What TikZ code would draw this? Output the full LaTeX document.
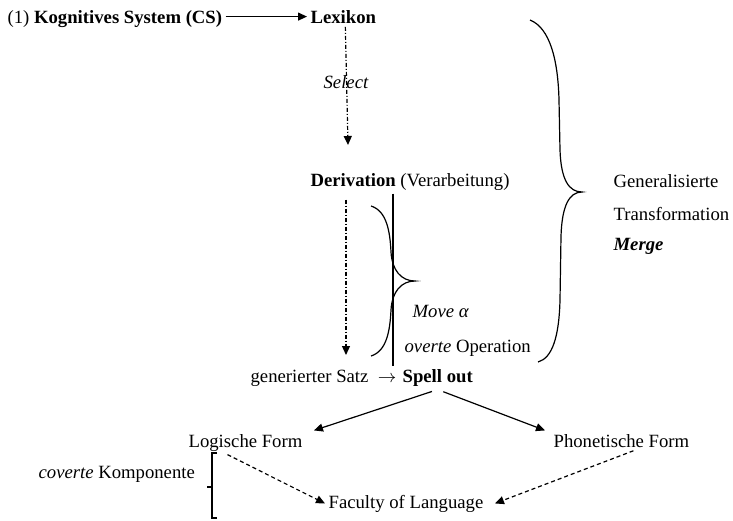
\documentclass[tikz,border=0pt]{standalone}
\usepackage{fontspec}
\setmainfont{Liberation Serif}
\usepackage{tikz}
\usetikzlibrary{arrows.meta,positioning,calc}

\begin{document}
\begin{tikzpicture}[x=0.5pt,y=-0.5pt,>={Triangle[length=4.5pt,width=4pt]},line width=0.6pt,font=\fontsize{9.35pt}{11pt}\selectfont,t/.style={inner sep=1.5pt,anchor=base west},dd/.style={dash pattern=on 2pt off 1pt on 0.5pt off 1pt},ds/.style={dash pattern=on 2pt off 1.5pt}]
 \useasboundingbox (0,0) rectangle (733,520);
 \node[t] (cs) at (4,23) {(1) \textbf{Kognitives System (CS)}};
 \node[t] (lex) at (307,23) {\textbf{Lexikon}};
 \node[t] (der) at (307,186) {\textbf{Derivation} (Verarbeitung)};
 \node[t] (gen) at (247,382) {generierter Satz ~$\rightarrow$};
 \node[t] (so) at (399,382) {\textbf{Spell out}};
 \node[t] (lf) at (185,447) {Logische Form};
 \node[t] (pf) at (550,447) {Phonetische Form};
 \node[t] (fl) at (325,508) {Faculty of Language};
 \node[t] (kp) at (35,478) {\textit{coverte} Komponente};
 \node[t] (mv) at (409,317) {\textit{Move α}};
 \node[t] (ov) at (401,352) {\textit{overte} Operation};
 \node[t] (gt) at (610,187) {Generalisierte};
 \node[t] (tr) at (610,220) {Transformation};
 \node[t] (mg) at (610,250) {\textbf{\textit{Merge}}};
 \coordinate (sx) at (348,145);
 \coordinate (dx) at (346,355);
 \coordinate (ax) at (393,0);
 \draw[->] ([yshift=1pt]cs.east) -- ([yshift=1pt]cs.east -| lex.west);
 \draw[dd,->] ([xshift=1pt]lex.south) -- (sx);
 \node[t] (sel) at (320,88) {\textit{Select}};
 \draw[dd,->,shorten <=3pt] (der.south -| dx) -- (dx);
 \draw[line width=1pt] (der.south -| ax) -- (gen.north -| ax);
 \draw (371,206) .. controls (387,211) and (390,232) .. (391,252) .. controls (392,270) and (401,281) .. (415,281) .. controls (401,281) and (392,292) .. (391,310) .. controls (390,330) and (387,351) .. (371,356);
 \draw (530,20) .. controls (550,28) and (558,60) .. (559,100) -- (560,150) .. controls (561,180) and (569,192) .. (582,192) .. controls (569,192) and (562,206) .. (561,236) -- (560,300) .. controls (559,338) and (552,358) .. (538,362);
 \draw[->,shorten <=3pt] (so.south) -- ([xshift=4pt]lf.north east); \draw[->,shorten <=3pt] (so.south) -- ([xshift=-2.5pt]pf.north west);
 \draw[ds,->] ([xshift=-9pt]lf.south) -- (fl.west); \draw[ds,->] ([xshift=6pt]pf.south) -- ([xshift=4pt]fl.east);
 \draw (217,453) -- (212,453) -- (212,518) -- (217,518) (212,487) -- (207,487);
\end{tikzpicture}
\end{document}
